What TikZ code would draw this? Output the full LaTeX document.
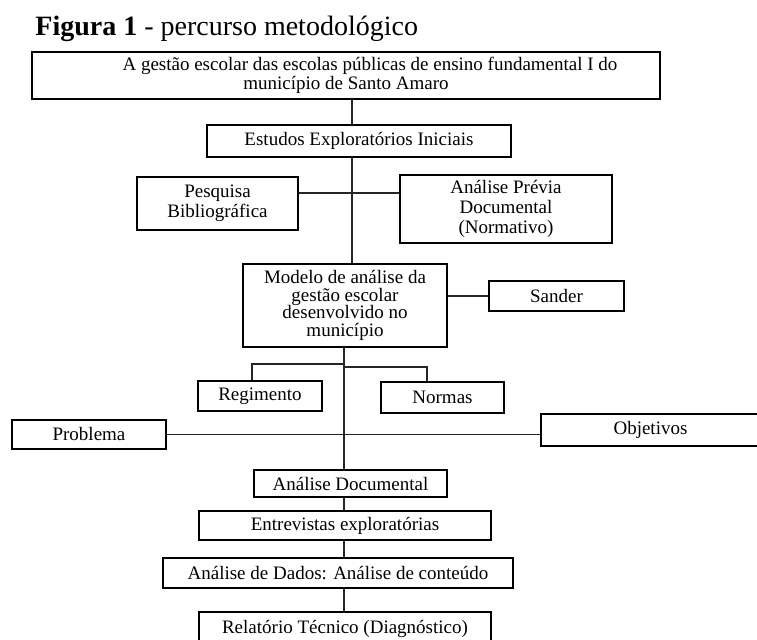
\documentclass[tikz,border=0pt]{standalone}
\usepackage{fontspec}
\setmainfont{Liberation Serif}
\usepackage{tikz}
\usetikzlibrary{positioning,calc}

\begin{document}
\begin{tikzpicture}[
        x=0.5pt, y=-0.5pt,
        q/.style={draw=black, line width=0.55pt, fill=white, inner sep=0pt, align=center,
          font=\fontsize{9.5}{10}\selectfont},
        link/.style={line width=0.55pt, draw=black!85}
      ]
        \useasboundingbox (0,0) rectangle (757,640);
        \node[anchor=base west, inner sep=0pt, font=\fontsize{14}{16}\selectfont] (title) at (35,36) {\textbf{Figura 1} - percurso metodológico};
        \coordinate (up) at (352,0);
        \coordinate (low) at (344,0);
        \coordinate (cross) at (352,193);
        \coordinate (forkl) at (344,364);
        \coordinate (forkr) at (344,367);
        \node[q, minimum width=314pt, minimum height=23.5pt, font=\fontsize{9.5}{7.6}\selectfont] (tema) at (346,75.5) {\hspace*{24pt}A gestão escolar das escolas públicas de ensino fundamental I do\\município de Santo Amaro};
        \node[q, minimum width=152pt, minimum height=16pt] (estudos) at (359,141) {Estudos Exploratórios Iniciais};
        \node[q, minimum width=80.5pt, minimum height=26.5pt] (pesquisa) at (217.5,203.5) {Pesquisa\\Bibliográfica};
        \node[q, minimum width=106pt, minimum height=34pt] (previa) at (506,209) {Análise Prévia\\Documental\\(Normativo)};
        \node[q, minimum width=102pt, minimum height=41.5pt, font=\fontsize{9.5}{8.8}\selectfont] (modelo) at (345,305.5) {Modelo de análise da\\gestão escolar\\desenvolvido no\\município};
        \node[q, minimum width=67.5pt, minimum height=15pt] (sander) at (556.5,296) {Sander};
        \node[q, minimum width=62pt, minimum height=15pt] (regimento) at (260,396) {Regimento};
        \node[q, minimum width=61.5pt, minimum height=15.5pt] (normas) at (442.5,397.5) {Normas};
        \node[q, minimum width=77pt, minimum height=14.5pt] (problema) at (89,434.5) {Problema};
        \node[q, minimum width=109.5pt, minimum height=16pt] (objetivos) at (650.5,430) {Objetivos};
        \node[q, minimum width=96.5pt, minimum height=13.5pt] (docanalise) at (350.5,483.5) {Análise Documental};
        \node[q, minimum width=146pt, minimum height=14.5pt] (entrevistas) at (345,525.5) {Entrevistas exploratórias};
        \node[q, minimum width=175pt, minimum height=15pt] (dados) at (338,573) {Análise de Dados: Análise de conteúdo};
        \node[q, minimum width=146pt, minimum height=16.5pt] (relatorio) at (345,628.5) {Relatório Técnico (Diagnóstico)};
        \draw[link] (tema.south -| up) -- (estudos.north -| up);
        \draw[link] (estudos.south -| up) -- (modelo.north -| up);
        \draw[link] (pesquisa.east |- cross) -- (previa.west |- cross);
        \draw[link] (sander.west) -- (sander.west -| modelo.east);
        \draw[link] (modelo.south -| low) -- (docanalise.north -| low);
        \draw[link] (forkl) -| ([xshift=-4pt]regimento.north);
        \draw[link] (forkr) -| ([xshift=-7.75pt]normas.north);
        \draw[link] (problema.east) -- (problema.east -| objetivos.west);
        \draw[link] (docanalise.south -| low) -- (entrevistas.north -| low);
        \draw[link] (entrevistas.south -| low) -- (dados.north -| low);
        \draw[link] (dados.south -| low) -- (relatorio.north -| low);
      \end{tikzpicture}
\end{document}
